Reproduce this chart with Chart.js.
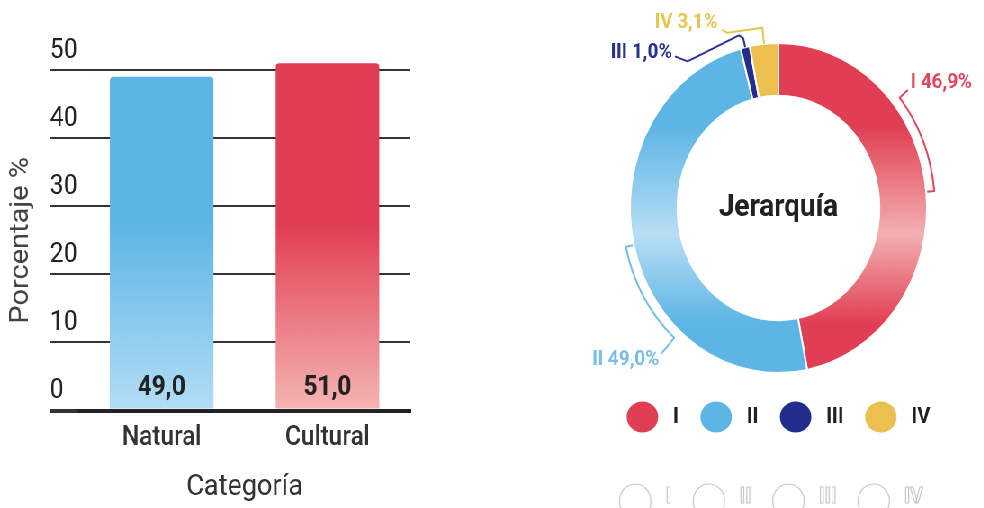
<!DOCTYPE html>
<html>
<head>
<meta charset="utf-8">
<script src="https://cdn.jsdelivr.net/npm/chart.js@4.4.1/dist/chart.umd.min.js"></script>
<style>
  html, body { margin: 0; padding: 0; background: #fff; width: 984px; height: 508px; overflow: hidden; }
  #lienzo { position: absolute; left: 0; top: 0; width: 1094px; height: 508px; transform: scaleX(0.9); transform-origin: 0 0; }
  #cajaBarras { position: absolute; left: 0; top: 0; width: 480px; height: 508px; }
  #cajaAnillo { position: absolute; left: 633px; top: 0; width: 450px; height: 508px; }
</style>
</head>
<body>
<div id="lienzo">
  <div id="cajaBarras"><canvas id="barras"></canvas></div>
  <div id="cajaAnillo"><canvas id="anillo"></canvas></div>
</div>
<script>
// datos
const categorias = ['Natural', 'Cultural'];
const porcentajes = [49.0, 51.0];
const ejeY = [0, 10, 20, 30, 40, 50];
const jerarquias = ['I', 'II', 'III', 'IV'];
const jerarquiaPct = [46.9, 49.0, 1.0, 3.1];

// estilos
const coloresBarra = [['#5CB5E5', '#B3DDF5'], ['#E03E52', '#F5B5B3']];
const coloresAnillo = [['#E03E52', '#F3B0B2'], ['#5CB5E5', '#B8DEF4'], ['#232D8E', '#232D8E'], ['#ECC04F', '#ECC04F']];
const coloresLeyenda = ['#E03E52', '#5CB5E5', '#232D8E', '#ECC04F'];
const coloresEtiqueta = ['#E0465C', '#78BEE4', '#27318F', '#E6C550'];
const radioAnillo = 165;

Chart.defaults.font.family = 'Roboto';

function fmt(v) {
  return v.toFixed(1).replace('.', ',');
}

function gradBarra(c) {
  const chart = c.chart, ca = chart.chartArea;
  const col = coloresBarra[c.dataIndex];
  if (!ca) return col[0];
  const g = chart.ctx.createLinearGradient(0, ca.top, 0, ca.bottom);
  g.addColorStop(0, col[0]);
  g.addColorStop(0.45, col[0]);
  g.addColorStop(1, col[1]);
  return g;
}

function gradAnillo(c) {
  const chart = c.chart, ca = chart.chartArea;
  const col = coloresAnillo[c.dataIndex];
  if (!ca) return col[0];
  const cy = (ca.top + ca.bottom) / 2;
  const g = chart.ctx.createLinearGradient(0, cy - radioAnillo, 0, cy + radioAnillo);
  g.addColorStop(0, col[0]);
  g.addColorStop(0.25, col[0]);
  g.addColorStop(0.58, col[1]);
  g.addColorStop(0.85, col[0]);
  g.addColorStop(1, col[0]);
  return g;
}

// numeros del eje y y valores de las barras
const etiquetasBarras = {
  id: 'etiquetasBarras',
  afterDraw(chart) {
    const ctx = chart.ctx;
    const y = chart.scales.y;
    const x0 = y.right - y.options.grid.tickLength;
    ctx.save();
    ctx.fillStyle = '#222';
    ctx.font = '27px Roboto';
    ctx.textAlign = 'left';
    ctx.textBaseline = 'middle';
    y.ticks.forEach(t => {
      ctx.fillText(String(t.value), x0, y.getPixelForValue(t.value) - 19);
    });
    ctx.font = 'bold 27px Roboto';
    ctx.textAlign = 'center';
    chart.getDatasetMeta(0).data.forEach((bar, i) => {
      ctx.fillText(fmt(porcentajes[i]), bar.x, bar.base - 20);
    });
    ctx.restore();
  }
};

new Chart(document.getElementById('barras'), {
  type: 'bar',
  data: {
    labels: categorias,
    datasets: [{
      data: porcentajes,
      backgroundColor: gradBarra,
      borderRadius: { topLeft: 4, topRight: 4 },
      borderSkipped: 'bottom',
      categoryPercentage: 1,
      barPercentage: 0.625,
      clip: false
    }]
  },
  options: {
    responsive: true,
    maintainAspectRatio: false,
    animation: false,
    layout: { padding: { top: 70, right: 24, bottom: 3, left: 0 } },
    plugins: { legend: { display: false }, tooltip: { enabled: false } },
    scales: {
      x: {
        z: 1,
        grid: { display: false },
        border: { display: true, color: '#222', width: 4 },
        ticks: { color: '#333', padding: 3, font: { size: 27, weight: 500 } },
        title: { display: true, text: 'Categoría', color: '#333', padding: { top: 12, bottom: 0 }, font: { size: 30 } }
      },
      y: {
        min: 0,
        max: 50,
        afterBuildTicks: s => { s.ticks = ejeY.map(v => ({ value: v })); },
        afterFit: s => { s.width = 87.5; },
        grid: {
          color: '#333',
          lineWidth: c => (c.tick && c.tick.value === 0 ? 4 : 2),
          tickLength: 32,
          drawTicks: true
        },
        border: { display: false },
        ticks: { display: false },
        title: { display: true, text: 'Porcentaje %', color: '#444', padding: { top: 6, bottom: 0 }, font: { size: 29 } }
      }
    }
  },
  plugins: [etiquetasBarras]
});

// texto central, lineas guia y etiquetas del anillo
const etiquetasAnillo = {
  id: 'etiquetasAnillo',
  afterDatasetsDraw(chart) {
    const ctx = chart.ctx;
    const arcs = chart.getDatasetMeta(0).data;
    const cx = arcs[0].x, cy = arcs[0].y, R = arcs[0].outerRadius;
    const P = (a, rr) => [cx + rr * Math.cos(a), cy + rr * Math.sin(a)];

    ctx.save();
    ctx.fillStyle = '#222';
    ctx.font = 'bold 31px Roboto';
    ctx.textAlign = 'center';
    ctx.textBaseline = 'middle';
    ctx.fillText('Jerarquía', cx, cy);

    ctx.font = 'bold 21px Roboto';
    ctx.lineJoin = 'round';
    arcs.forEach((arc, i) => {
      const s = arc.startAngle, e = arc.endAngle;
      const txt = jerarquias[i] + ' ' + fmt(jerarquiaPct[i]) + '%';
      ctx.strokeStyle = coloresEtiqueta[i];
      ctx.fillStyle = coloresEtiqueta[i];
      ctx.lineWidth = 2;
      ctx.beginPath();
      if (i < 2) {
        const a0 = s + 0.3 * (e - s), a1 = s + 0.5 * (e - s), rb = R + 9;
        const cola = i === 0 ? 12 : 22;
        let p = P(a1, R + 1);
        ctx.moveTo(p[0], p[1]);
        p = P(a1, rb);
        ctx.lineTo(p[0], p[1]);
        ctx.arc(cx, cy, rb, a1, a0, true);
        const f = P(a0, rb + cola);
        ctx.lineTo(f[0], f[1]);
        ctx.stroke();
        if (i === 0) {
          ctx.textAlign = 'left';
          ctx.fillText(txt, f[0] + 3, f[1] - 7);
        } else {
          ctx.textAlign = 'right';
          ctx.fillText(txt, f[0] - 2, f[1] + 6);
        }
      } else {
        const m = (s + e) / 2;
        const p0 = P(m, R);
        const E = P(m, R + (i === 2 ? 9 : 16));
        ctx.moveTo(p0[0], p0[1]);
        ctx.lineTo(E[0], E[1]);
        ctx.textAlign = 'right';
        if (i === 2) {
          ctx.lineTo(E[0] - 5, E[1] - 3);
          ctx.lineTo(E[0] - 62, E[1] + 23);
          ctx.lineTo(E[0] - 76, E[1] + 18);
          ctx.stroke();
          ctx.fillText(txt, E[0] - 79, E[1] + 14);
        } else {
          ctx.lineTo(E[0] - 39, E[1] + 5);
          ctx.lineTo(E[0] - 45, E[1] + 2);
          ctx.stroke();
          ctx.fillText(txt, E[0] - 50, E[1] - 5);
        }
      }
    });
    ctx.restore();
  },
  afterDraw(chart) {
    // leyenda fantasma, solo contornos
    const lg = chart.legend;
    if (!lg || !lg.legendHitBoxes) return;
    const ctx = chart.ctx;
    const bw = lg.options.labels.pointStyleWidth;
    ctx.save();
    ctx.strokeStyle = '#c8c8c8';
    ctx.lineWidth = 1.2;
    ctx.font = 'bold 22px Roboto';
    ctx.textAlign = 'left';
    ctx.textBaseline = 'middle';
    lg.legendHitBoxes.forEach((b, i) => {
      const yc = b.top + b.height / 2;
      ctx.beginPath();
      ctx.ellipse(b.left + bw / 2 - 8, yc + 84, bw / 2, 17, 0, 0, Math.PI * 2);
      ctx.stroke();
      ctx.strokeText(lg.legendItems[i].text, b.left + bw + 11 - 8, yc + 80);
    });
    ctx.restore();
  }
};

new Chart(document.getElementById('anillo'), {
  type: 'doughnut',
  data: {
    labels: jerarquias,
    datasets: [{
      data: jerarquiaPct,
      backgroundColor: gradAnillo,
      borderColor: '#fff',
      borderWidth: 2,
      radius: radioAnillo,
      cutout: '68%'
    }]
  },
  options: {
    responsive: true,
    maintainAspectRatio: false,
    animation: false,
    layout: { padding: { top: 34, bottom: 70, left: 14, right: 0 } },
    plugins: {
      tooltip: { enabled: false },
      legend: {
        position: 'bottom',
        labels: {
          usePointStyle: true,
          pointStyle: 'circle',
          pointStyleWidth: 35,
          boxHeight: 24,
          padding: 24,
          color: '#222',
          font: { size: 22, weight: 'bold' },
          generateLabels: () => jerarquias.map((t, i) => ({
            text: ' ' + t,
            fillStyle: coloresLeyenda[i],
            strokeStyle: coloresLeyenda[i],
            fontColor: '#222',
            lineWidth: 0,
            pointStyle: 'circle',
            hidden: false,
            index: i
          }))
        }
      }
    }
  },
  plugins: [etiquetasAnillo]
});
</script>
</body>
</html>
